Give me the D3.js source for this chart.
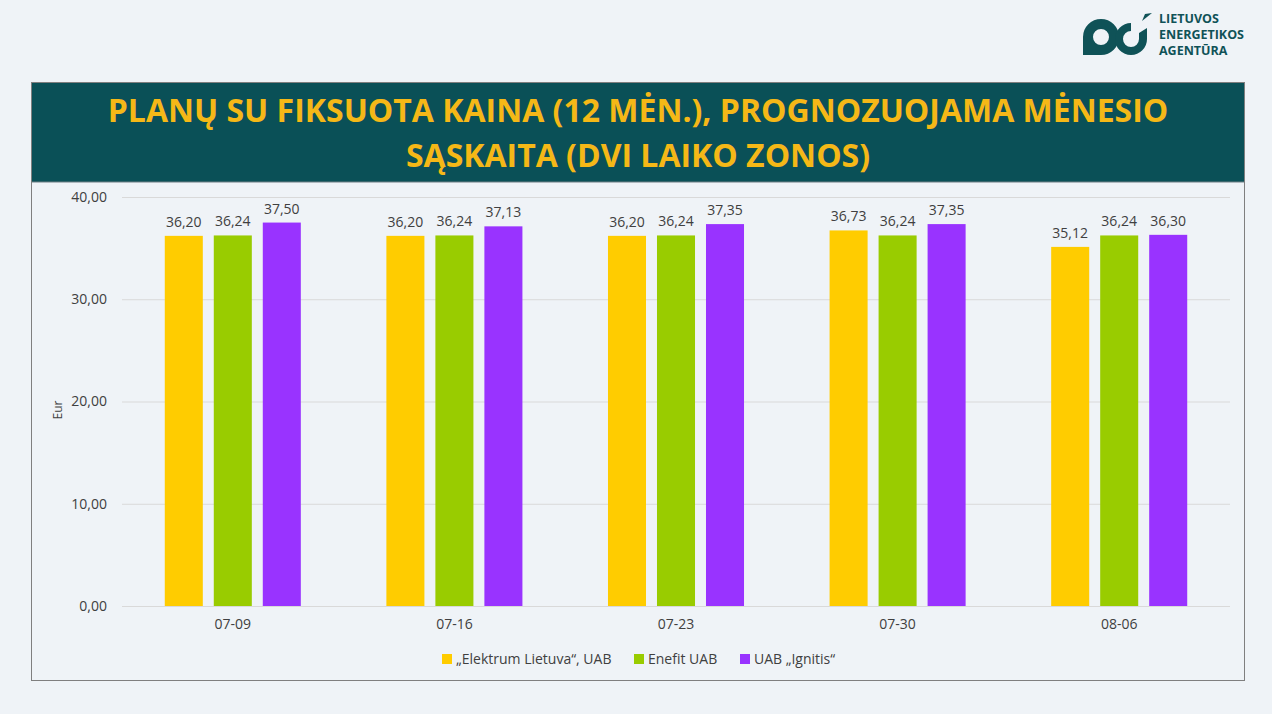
<!DOCTYPE html>
<html>
<head>
<meta charset="utf-8">
<script src="https://cdn.jsdelivr.net/npm/d3@7"></script>
<style>
  body { margin: 0; background: #eff3f7; }
  svg { display: block; font-family: "Open Sans", sans-serif; }
</style>
</head>
<body>
<svg id="chart"></svg>
<script>
var dates = ["07-09", "07-16", "07-23", "07-30", "08-06"];
var seriesNames = ["\u201EElektrum Lietuva\u201C, UAB", "Enefit UAB", "UAB \u201EIgnitis\u201C"];
var elektrum = [36.20, 36.20, 36.20, 36.73, 35.12];
var enefit = [36.24, 36.24, 36.24, 36.24, 36.24];
var ignitis = [37.50, 37.13, 37.35, 37.35, 36.30];
var yTicks = [0, 10, 20, 30, 40];
var colors = ["#ffcc00", "#99cc00", "#9933ff"];

var width = 1272, height = 714;
var svg = d3.select("#chart").attr("width", width).attr("height", height);

var fmt = function(v) { return v.toFixed(2).replace(".", ","); };

// panel
svg.append("rect").attr("x", 31.5).attr("y", 82.5).attr("width", 1213).attr("height", 598)
    .attr("fill", "#eff3f7").attr("stroke", "#7f7f7f").attr("stroke-width", 1);
svg.append("rect").attr("x", 32).attr("y", 83).attr("width", 1212).attr("height", 99)
    .attr("fill", "#0a5057");
svg.append("line").attr("x1", 32).attr("x2", 1244).attr("y1", 182).attr("y2", 182)
    .attr("stroke", "#6f7f85");

var title = svg.append("text").attr("text-anchor", "middle").attr("fill", "#f5b817")
    .attr("font-weight", "bold").attr("font-size", 32);
title.append("tspan").attr("x", 638).attr("y", 122).text("PLANŲ SU FIKSUOTA KAINA (12 MĖN.), PROGNOZUOJAMA MĖNESIO");
title.append("tspan").attr("x", 638).attr("y", 167).text("SĄSKAITA (DVI LAIKO ZONOS)");

// logo
var logo = svg.append("g").attr("fill", "#0f5257").attr("fill-rule", "evenodd");
logo.append("path").attr("d", "M1083,55 L1083,37 A18,18 0 0 1 1101,19 A18,18 0 0 1 1119,37 A18,18 0 0 1 1101,55 Z M1093,37 A8,8 0 1 0 1109,37 A8,8 0 1 0 1093,37 Z");
logo.append("path").attr("d", "M1131,23 A16,16 0 1 0 1147,39 L1147,28 L1139,33 L1139,39 A8,8 0 1 1 1131,31 Z");
logo.append("path").attr("d", "M1142,21 L1145,14 L1152,13 Z");
var logoText = svg.append("text").attr("fill", "#0f5257").attr("font-weight", "bold")
    .attr("font-size", 12.5);
["LIETUVOS", "ENERGETIKOS", "AGENTŪRA"].forEach(function(t, i) {
    logoText.append("tspan").attr("x", 1159).attr("y", 23 + i * 16).text(t);
});

// chart
var x0 = d3.scaleBand().domain(dates).range([122, 1230]).paddingInner(0).paddingOuter(0);
var x1 = d3.scaleBand().domain([0, 1, 2]).range([0, x0.bandwidth()]).paddingInner(0.224).paddingOuter(0.873);
var y = d3.scaleLinear().domain([0, 40]).range([606, 197]);

var grid = svg.append("g");
grid.selectAll("line").data(yTicks).enter().append("line")
    .attr("x1", 122).attr("x2", 1230)
    .attr("y1", function(d) { return y(d) + 0.5; })
    .attr("y2", function(d) { return y(d) + 0.5; })
    .attr("stroke", "#d9d9d9").attr("stroke-width", 1);

var yAxis = svg.append("g").attr("transform", "translate(122,0)")
    .call(d3.axisLeft(y).tickValues(yTicks).tickSize(0).tickPadding(15).tickFormat(fmt));
yAxis.select(".domain").remove();
yAxis.selectAll("text").attr("font-size", 14).attr("fill", "#404040").attr("font-family", "Open Sans");

var xAxis = svg.append("g").attr("transform", "translate(0,606)")
    .call(d3.axisBottom(x0).tickSize(0).tickPadding(13));
xAxis.select(".domain").remove();
xAxis.selectAll("text").attr("font-size", 14).attr("fill", "#404040").attr("font-family", "Open Sans");

svg.append("text").attr("transform", "translate(62,410) rotate(-90)").attr("text-anchor", "middle")
    .attr("font-size", 12).attr("fill", "#404040").text("Eur");

var series = [elektrum, enefit, ignitis];
var groups = svg.append("g").selectAll("g").data(dates).enter().append("g")
    .attr("transform", function(d) { return "translate(" + x0(d) + ",0)"; });

groups.each(function(d, i) {
    var g = d3.select(this);
    var vals = series.map(function(s, k) { return { k: k, v: s[i] }; });
    g.selectAll("rect").data(vals).enter().append("rect")
        .attr("x", function(e) { return x1(e.k); })
        .attr("width", x1.bandwidth())
        .attr("y", function(e) { return y(e.v); })
        .attr("height", function(e) { return y(0) - y(e.v); })
        .attr("fill", function(e) { return colors[e.k]; });
    g.selectAll("text").data(vals).enter().append("text")
        .attr("x", function(e) { return x1(e.k) + x1.bandwidth() / 2; })
        .attr("y", function(e) { return y(e.v) - 9; })
        .attr("text-anchor", "middle").attr("font-size", 14).attr("fill", "#404040")
        .text(function(e) { return fmt(e.v); });
});

// legend
var legendX = [442, 634, 740];
var legend = svg.append("g").selectAll("g").data(seriesNames).enter().append("g")
    .attr("transform", function(d, i) { return "translate(" + legendX[i] + ",654)"; });
legend.append("rect").attr("width", 10).attr("height", 10)
    .attr("fill", function(d, i) { return colors[i]; });
legend.append("text").attr("x", 14).attr("y", 10).attr("font-size", 14).attr("fill", "#404040")
    .text(function(d) { return d; });
</script>
</body>
</html>
